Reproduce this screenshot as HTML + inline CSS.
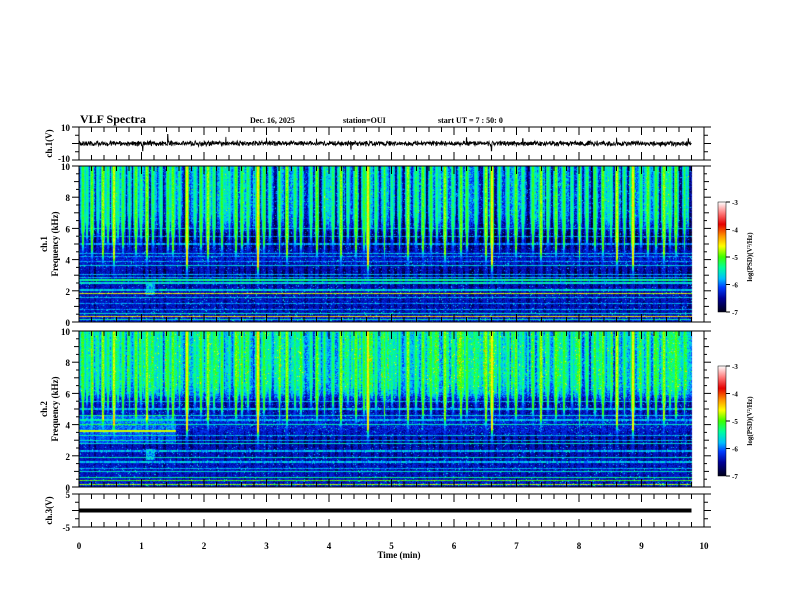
<!DOCTYPE html>
<html><head><meta charset="utf-8">
<style>
html,body{margin:0;padding:0;background:#fff;}
#wrap{position:relative;width:792px;height:612px;overflow:hidden;font-family:"Liberation Serif",serif;}
canvas{position:absolute;}
svg{position:absolute;left:0;top:0;}
text{font-family:"Liberation Serif",serif;font-weight:bold;fill:#000;}
</style></head>
<body>
<div id="wrap">
<canvas id="spec1" width="614" height="156" style="left:79px;top:166px"></canvas>
<canvas id="spec2" width="614" height="156" style="left:79px;top:331px"></canvas>
<canvas id="cb1" width="8" height="110" style="left:718px;top:202px"></canvas>
<canvas id="cb2" width="8" height="110" style="left:718px;top:366px"></canvas>
<svg id="svg" width="792" height="612"></svg>
</div>
<script>
// ---------- data ----------
const burstTimes = [0.05,0.12,0.2,0.3,0.38,0.45,0.55,0.62,0.7,0.8,0.9,0.98,1.08,1.18,1.3,1.42,1.5,1.6,1.72,1.85,1.95,2.05,2.15,2.28,2.4,2.5,2.6,2.7,2.85,2.95,3.05,3.2,3.32,3.45,3.55,3.7,3.8,3.92,4.05,4.18,4.3,4.42,4.55,4.62,4.75,4.88,5.0,5.12,5.25,5.38,5.5,5.62,5.72,5.85,5.98,6.1,6.2,6.35,6.5,6.6,6.72,6.85,6.98,7.1,7.25,7.38,7.5,7.62,7.75,7.88,8.0,8.12,8.25,8.38,8.5,8.6,8.72,8.85,8.98,9.1,9.22,9.35,9.45,9.55,9.68];
const burstAmps  = [1.0,0.8,1.1,0.7,1.2,0.9,1.3,0.8,1.0,0.9,1.1,0.8,1.2,0.9,0.8,1.0,1.1,0.9,1.4,0.8,1.0,1.2,0.9,1.0,0.8,1.1,1.0,0.9,1.45,1.0,0.8,1.1,1.2,0.9,1.0,0.8,1.1,1.0,0.9,1.2,0.8,1.1,1.0,1.4,0.9,1.1,0.8,1.0,1.2,0.9,1.1,1.0,0.8,1.2,0.9,1.1,1.0,0.8,1.2,1.4,1.0,0.9,1.1,0.8,1.0,1.2,0.9,1.1,1.0,0.8,1.2,0.9,1.0,1.1,0.8,1.3,1.0,1.4,0.9,1.1,1.0,1.2,0.9,1.1,1.0];
const profFreqs = [0,0.5,1,1.5,2,2.5,3,3.5,4,4.5,5,5.5,6,6.5,7,8,9,10];
const profile1  = [-6.3,-6.5,-6.6,-6.5,-6.5,-6.7,-6.9,-6.6,-6.4,-6.5,-6.85,-6.9,-6.5,-6.3,-6.2,-6.15,-6.15,-6.15];
const profile2  = [-6.3,-6.5,-6.5,-6.5,-6.6,-6.6,-6.8,-6.4,-6.3,-6.4,-6.6,-6.5,-5.9,-5.7,-5.65,-5.65,-5.65,-5.65];
const lineFreqs1 = [0.15,0.35,0.55,0.8,1.2,1.55,1.85,2.05,2.5,2.7,2.85,3.05,3.6,3.9,4.2,4.4,5.0,5.5,6.0];
const lineLevels1= [-5.5,-4.5,-5.6,-5.9,-5.9,-5.8,-4.7,-5.7,-5.6,-5.4,-5.8,-5.8,-5.7,-5.9,-5.9,-5.8,-5.9,-5.9,-5.8];
const lineFreqs2 = [0.15,0.4,0.6,1.0,1.2,1.6,1.9,2.3,2.8,3.0,3.3,4.0,4.3,4.6,5.0,5.5];
const lineLevels2= [-4.8,-5.0,-5.4,-5.6,-5.8,-5.8,-5.6,-5.8,-5.6,-5.8,-5.8,-5.5,-5.8,-5.7,-5.8,-5.8];
const bandStart2 = 0, bandEnd2 = 1.55, bandFreq2 = 3.6, bandLevel2 = -4.7;
const spikeTimes = [1.42,1.02,2.35,3.0,3.8,4.35,6.2,6.6,7.1,8.6,9.75];
const spikeVals  = [5.5,-4.5,4,3.5,3,-3.5,3.5,-4.5,3,3.5,3];
const xTicks = [0,1,2,3,4,5,6,7,8,9,10];
const freqTicks = [0,2,4,6,8,10];
const cbTicks = [-3,-4,-5,-6,-7];
const ch3Level = 0;

// ---------- scales ----------
const X0=79, X1=704;
const xs = t => X0 + (X1-X0)*t/10;
function hash(a,b){let h=(a*374761393+b*668265263)|0;h=(h^(h>>>13))*1274126177|0;h=h^(h>>>16);return ((h>>>0)%10000)/10000;}
function interp(xa,ya,x){for(let i=1;i<xa.length;i++){if(x<=xa[i]){const r=(x-xa[i-1])/(xa[i]-xa[i-1]);return ya[i-1]+r*(ya[i]-ya[i-1]);}}return ya[ya.length-1];}
const cstops=[[0,[0,0,30]],[0.12,[0,0,150]],[0.22,[0,60,255]],[0.3,[0,190,255]],[0.4,[0,255,160]],[0.5,[60,255,0]],[0.6,[255,255,0]],[0.7,[255,140,0]],[0.8,[230,0,0]],[0.9,[255,120,120]],[1,[255,250,250]]];
function cmap(v){let n=(v+7)/4;n=Math.max(0,Math.min(1,n));for(let i=1;i<cstops.length;i++){if(n<=cstops[i][0]){const a=cstops[i-1],b=cstops[i];const r=(n-a[0])/(b[0]-a[0]);return a[1].map((c,k)=>Math.round(c+r*(b[1][k]-c)));}}return cstops[cstops.length-1][1];}

function drawSpec(id,profile,lf,ll,seed,panel2){
  const cv=document.getElementById(id),ctx=cv.getContext('2d');
  const W=cv.width,H=cv.height,img=ctx.createImageData(W,H);
  const tEnd=9.8, wData=Math.round((xs(tEnd)-X0));
  for(let y=0;y<H;y++){
    const f=10*(1-(y+0.5)/H);
    const hi=Math.max(0,Math.min(1,(f-5)/1.5));
    for(let x=0;x<W;x++){
      const t=(x+0.5)/(X1-X0)*10;
      let v;
      if(x>=wData){v=null;}
      else{
        const colv=(hash(Math.floor(x/2)+seed,7)-0.5)*0.9+(hash(Math.floor(x/5)+seed,9)-0.5)*0.6;
        const r=hash(x+seed,y);
        v=interp(profFreqs,profile,f)+(r-0.5)*0.6+hi*colv+(r>0.97?0.5:0);
        for(let k=0;k<burstTimes.length;k++){
          const dx=Math.abs(x-(xs(burstTimes[k])-X0));
          if(dx<2.5){
            const a=burstAmps[k]*(dx<1?1:(dx<2?0.7:0.45));
            const reach=8.2-a*3.2;
            const taper=f>=reach?1:Math.exp(-(reach-f)*2.6);
            v=Math.max(v,-6.4+a*1.3*taper+(hash(x,y+seed)-0.5)*0.3);
          }
        }
        for(let k=0;k<lf.length;k++){if(Math.abs(f-lf[k])<0.04)v=Math.max(v,ll[k]+(hash(x,k)-0.5)*0.5);}
        if(Math.abs(f-2.1)<0.35&&Math.abs(t-1.15)<0.07)v=Math.max(v,-5.8+(hash(x,y)-0.5)*0.8);
        if(panel2&&t>=bandStart2&&t<=bandEnd2){
          if(Math.abs(f-bandFreq2)<0.07)v=Math.max(v,bandLevel2);
          else if(f>2.8&&f<4.6)v+=0.3;
        }
      }
      const i=(y*W+x)*4;
      if(v===null){img.data[i]=255;img.data[i+1]=255;img.data[i+2]=255;img.data[i+3]=255;continue;}
      const c=cmap(v);img.data[i]=c[0];img.data[i+1]=c[1];img.data[i+2]=c[2];img.data[i+3]=255;
    }
  }
  ctx.putImageData(img,0,0);
}
drawSpec('spec1',profile1,lineFreqs1,lineLevels1,11,false);
drawSpec('spec2',profile2,lineFreqs2,lineLevels2,97,true);
function drawCb(id){const cv=document.getElementById(id),ctx=cv.getContext('2d');for(let y=0;y<cv.height;y++){const v=-3-4*y/(cv.height-1);const c=cmap(v);ctx.fillStyle=`rgb(${c[0]},${c[1]},${c[2]})`;ctx.fillRect(0,y,cv.width,1);}}
drawCb('cb1');drawCb('cb2');

// ---------- SVG ----------
const svg=document.getElementById('svg');const NS='http://www.w3.org/2000/svg';
function el(tag,attrs,parent){const e=document.createElementNS(NS,tag);for(const k in attrs)e.setAttribute(k,attrs[k]);(parent||svg).appendChild(e);return e;}
function txt(s,x,y,size,anchor,rot,name){const e=el('text',{x:x,y:y,'font-size':size,'text-anchor':anchor||'start'});if(rot)e.setAttribute('transform',`rotate(-90 ${x} ${y})`);e.textContent=s;


return e;}

const panels=[{top:127,bot:160,name:'ch1-waveform'},{top:166,bot:322,name:'ch1-spectrogram'},{top:331,bot:487,name:'ch2-spectrogram'},{top:494,bot:527,name:'ch3-waveform'}];
panels.forEach(p=>{
  const r=el('rect',{x:X0,y:p.top,width:X1-X0,height:p.bot-p.top,fill:'none',stroke:'#000','stroke-width':1});
  
  
  for(let t=0;t<=10.001;t+=0.2){
    const x=xs(t),major=Math.abs(t-Math.round(t))<0.01,L=major?8:5;
    el('line',{x1:x,y1:p.top,x2:x,y2:p.top+L,stroke:'#000','stroke-width':1});
    el('line',{x1:x,y1:p.bot,x2:x,y2:p.bot-L,stroke:'#000','stroke-width':1});
  }
});
[[166,322],[331,487]].forEach(([top,bot],pi)=>{
  for(let f=0;f<=10;f+=0.5){const y=bot-(bot-top)*f/10,major=f%2===0,L=major?7:(f%1===0?5:3);
    el('line',{x1:X0,y1:y,x2:X0-L,y2:y,stroke:'#000'});el('line',{x1:X1,y1:y,x2:X1+L,y2:y,stroke:'#000'});}
  freqTicks.forEach(f=>{const y=bot-(bot-top)*f/10;txt(String(f),70,y+4,9,'end',false,'freq-tick-label');});
  txt('ch.'+(pi+1),47,(top+bot)/2,9,'middle',true,'ch'+(pi+1)+'-label');
  txt('Frequency (kHz)',58,(top+bot)/2,9,'middle',true,'y-axis-title-frequency');
});
const ch1T=[127,160];const yc1=v=>ch1T[1]-(ch1T[1]-ch1T[0])*(v+10)/20;
let pts=[];const nT=Math.round(xs(9.8)-X0)*3;
for(let i=0;i<=nT;i++){const t=9.8*i/nT;let v=(hash(i,3)-0.5)*2.6+(hash(i,5)-0.5)*1.0;
  for(let k=0;k<spikeTimes.length;k++){if(Math.abs(t-spikeTimes[k])<0.004)v=spikeVals[k];}
  pts.push(xs(t).toFixed(1)+','+yc1(v).toFixed(1));}
const wl=el('polyline',{points:pts.join(' '),fill:'none',stroke:'#000','stroke-width':0.8});


txt('10',70,131,9,'end',false,'ch1-tick-label');txt('-10',70,162,9,'end',false,'ch1-tick-label');
for(let v=-10;v<=10;v+=5){const y=yc1(v);el('line',{x1:X0,y1:y,x2:X0-(v%10===0?7:4),y2:y,stroke:'#000'});el('line',{x1:X1,y1:y,x2:X1+(v%10===0?7:4),y2:y,stroke:'#000'});}
txt('ch.1(V)',52,143.5,9,'middle',true,'ch1-y-title');
const yc3=v=>527-(527-494)*(v+5)/10;
const l3=el('line',{x1:X0,y1:yc3(ch3Level),x2:xs(9.8),y2:yc3(ch3Level),stroke:'#000','stroke-width':4});


for(let v=-5;v<=5;v+=2.5){const y=yc3(v);el('line',{x1:X0,y1:y,x2:X0-(v%5===0?7:4),y2:y,stroke:'#000'});el('line',{x1:X1,y1:y,x2:X1+(v%5===0?7:4),y2:y,stroke:'#000'});}
txt('5',70,498,9,'end',false,'ch3-tick-label');txt('-5',70,531,9,'end',false,'ch3-tick-label');
txt('ch.3(V)',52,510.5,9,'middle',true,'ch3-y-title');
xTicks.forEach(t=>txt(String(t),xs(t),549,9,'middle',false,'x-tick-label'));
txt('Time  (min)',399,558,9,'middle',false,'x-axis-title');
txt('VLF Spectra',80,123,12,'start',false,'chart-title');
txt('Dec. 16, 2025',250,123,8,'start',false,'date-label');
txt('station=OUI',343,123,8,'start',false,'station-label');
txt('start  UT =   7 : 50: 0',438,123,8,'start',false,'start-time-label');
[[202,312],[366,476]].forEach(([top,bot],i)=>{
  el('rect',{x:718,y:top,width:8,height:bot-top,fill:'none',stroke:'#000','stroke-width':0.5});
  cbTicks.forEach(v=>{const y=top+(bot-top)*(-3-v)/4;el('line',{x1:726,y1:y,x2:730,y2:y,stroke:'#000'});txt(String(v),732,y+3,7,'start',false,'colorbar-tick-label');});
  txt('log(PSD)(V\u00B2/Hz)',752,(top+bot)/2,7,'middle',true,'colorbar-title');
});
</script>
</body></html>
